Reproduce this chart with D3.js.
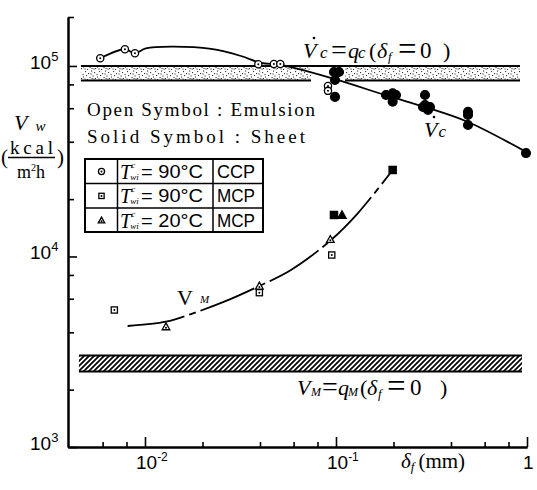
<!DOCTYPE html>
<html><head><meta charset="utf-8">
<script src="https://cdn.jsdelivr.net/npm/d3@7"></script>
<style>body{margin:0;background:#fff}svg{display:block}</style>
</head><body><svg id="c" width="537" height="490"></svg>
<script>
// ---------- data ----------
const xMajorTicks = [0.01, 0.1, 1];
const xMajorBase = ["10", "10", "1"];
const xMajorExp = ["-2", "-1", ""];
const xMinorTicks = [0.006, 0.008, 0.02, 0.04, 0.06, 0.08, 0.2, 0.4, 0.6, 0.8];
const yMajorTicks = [1e3, 1e4, 1e5];
const yMajorBase = ["10", "10", "10"];
const yMajorExp = ["3", "4", "5"];
const yMinorTicks = [2e3, 4e3, 6e3, 8e3, 2e4, 4e4, 6e4, 8e4];

// CCP, Tc_wi = 90°C : open = emulsion, solid = sheet
const ccpEmulsionX = [0.00583, 0.00785, 0.00886, 0.0392, 0.0473, 0.0511, 0.0908, 0.0908];
const ccpEmulsionY = [109700, 122400, 116600, 102100, 102400, 102400, 78500, 74000];
const ccpSheetX = [0.0976, 0.1037, 0.0988, 0.0988, 0.1827, 0.198, 0.2061, 0.198, 0.2924, 0.2924, 0.2854, 0.3106, 0.3032, 0.491, 0.491, 0.491, 0.988];
const ccpSheetY = [93000, 93000, 84400, 68800, 70400, 71900, 70400, 65000, 70400, 62400, 60900, 60900, 58800, 57400, 55300, 49000, 34900];
// MCP, Tc_wi = 90°C
const mcp90EmulsionX = [0.00691, 0.0397, 0.0950];
const mcp90EmulsionY = [5237, 6457, 10180];
const mcp90SheetX = [0.0976, 0.198];
const mcp90SheetY = [16510, 28450];
// MCP, Tc_wi = 20°C
const mcp20EmulsionX = [0.01288, 0.0397, 0.0934];
const mcp20EmulsionY = [4280, 7000, 12310];
const mcp20SheetX = [0.1075];
const mcp20SheetY = [16510];

// fitted curves
const vcCurveX = [0.00583, 0.00785, 0.00886, 0.0101, 0.0137, 0.0222, 0.0318, 0.0405, 0.0515, 0.0976, 0.187, 0.303, 0.491, 0.988];
const vcCurveY = [109700, 122400, 116600, 123600, 126300, 122800, 112800, 103700, 101200, 85500, 69600, 60200, 50800, 35400];
const vmCurveX = [0.00811, 0.01288, 0.01741, 0.0260, 0.0397, 0.0581, 0.0942, 0.130, 0.198];
const vmCurveY = [4317, 4548, 4987, 5789, 7000, 8490, 12200, 16850, 28450];

// bands  (delta_f = 0 levels)
const qcBandY = [84000, 100000];
const qcBandXLeft = [0.00462, 0.0740];
const qcBandXRight = [0.1115, 0.919];
const qmBandY = [2490, 3020];
const qmBandX = [0.00451, 0.9415];

// legend
const legendSymbols = ["circle", "square", "triangle"];
const legendTemps = ["= 90°C", "= 90°C", "= 20°C"];
const legendTypes = ["CCP", "MCP", "MCP"];

// ---------- drawing ----------
const svg = d3.select("#c");
const x = d3.scaleLog().domain([0.003953, 1]).range([68, 527]);
const y = d3.scaleLog().domain([1000, 180700]).range([447, 17]);
const SERIF = "'Liberation Serif','Times New Roman',serif";
const SANS = "'Liberation Sans',Arial,sans-serif";

const defs = svg.append("defs");
const st = defs.append("pattern").attr("id", "stip").attr("patternUnits", "userSpaceOnUse")
  .attr("width", 14).attr("height", 10);
const stipDots = [[1,1],[4,3],[7,0.5],[10,2],[12.5,4],[2,5],[5.5,7],[8.5,5.5],[11,8],[0.5,8.5],[3,9],[6.5,3.5],[9.5,8.5],[13,6.5],[7.5,8]];
st.selectAll("rect").data(stipDots).join("rect")
  .attr("x", d => d[0]).attr("y", d => d[1]).attr("width", 1.1).attr("height", 1.1).attr("fill", "#333");
const ht = defs.append("pattern").attr("id", "hatch").attr("patternUnits", "userSpaceOnUse")
  .attr("width", 5).attr("height", 5);
ht.append("path").attr("d", "M-1,1 l2,-2 M0,5 l5,-5 M4,6 l2,-2")
  .attr("stroke", "#000").attr("stroke-width", 1.7);

function band(x0, x1, yv, fill, top, bottom) {
  svg.append("rect").attr("x", x(x0)).attr("width", x(x1) - x(x0))
    .attr("y", y(yv[1])).attr("height", y(yv[0]) - y(yv[1])).attr("fill", fill);
  if (bottom) svg.append("line").attr("x1", x(x0)).attr("x2", x(x1)).attr("y1", y(yv[0])).attr("y2", y(yv[0]))
    .attr("stroke", "#000").attr("stroke-width", 2);
  if (top) svg.append("line").attr("x1", x(x0)).attr("x2", x(x1)).attr("y1", y(yv[1])).attr("y2", y(yv[1]))
    .attr("stroke", "#000").attr("stroke-width", 2);
}
band(qcBandXLeft[0], qcBandXLeft[1], qcBandY, "url(#stip)", true, true);
band(qcBandXRight[0], qcBandXRight[1], qcBandY, "url(#stip)", false, true);
svg.append("line").attr("x1", x(qcBandXLeft[1]) - 1).attr("x2", x(qcBandXRight[1]))
  .attr("y1", y(qcBandY[1])).attr("y2", y(qcBandY[1])).attr("stroke", "#000").attr("stroke-width", 2);
band(qmBandX[0], qmBandX[1], qmBandY, "url(#hatch)", true, true);

// axes
const gx = svg.append("g").attr("transform", "translate(0,447)");
gx.call(d3.axisBottom(x).tickValues(xMinorTicks).tickSize(-5).tickSizeOuter(0).tickFormat(""));
const gx2 = svg.append("g").attr("transform", "translate(0,447)");
gx2.call(d3.axisBottom(x).tickValues(xMajorTicks).tickSize(-10).tickSizeOuter(0).tickFormat(""));
const gy = svg.append("g").attr("transform", "translate(68,0)");
gy.call(d3.axisLeft(y).tickValues(yMinorTicks.concat([y.domain()[1]])).tickSize(-6).tickSizeOuter(0).tickFormat(""));
const gy2 = svg.append("g").attr("transform", "translate(68,0)");
gy2.call(d3.axisLeft(y).tickValues(yMajorTicks).tickSize(-9).tickSizeOuter(0).tickFormat(""));
svg.selectAll(".domain").attr("stroke", "#000").attr("stroke-width", 2);
svg.selectAll(".tick line").attr("stroke", "#000").attr("stroke-width", 1.6);

xMajorTicks.forEach((v, i) => {
  const t = svg.append("text").attr("font-family", SANS).attr("font-size", 19)
    .attr("x", xMajorExp[i] ? x(v) - 9 : x(v) - 4).attr("y", 469);
  t.append("tspan").text(xMajorBase[i]);
  if (xMajorExp[i]) t.append("tspan").attr("dy", -8).attr("font-size", 12).text(xMajorExp[i]);
});
yMajorTicks.forEach((v, i) => {
  const t = svg.append("text").attr("font-family", SANS).attr("font-size", 19)
    .attr("x", 30).attr("y", y(v) + 3);
  t.append("tspan").text(yMajorBase[i]);
  t.append("tspan").attr("dy", -8).attr("font-size", 13).text(yMajorExp[i]);
});

// curves
const vcPts = vcCurveX.map((d, i) => [d, vcCurveY[i]]);
svg.append("path").attr("d", d3.line().x(d => x(d[0])).y(d => y(d[1])).curve(d3.curveCatmullRom.alpha(0.5))(vcPts))
  .attr("fill", "none").attr("stroke", "#000").attr("stroke-width", 1.8);
const vmPts = vmCurveX.map((d, i) => [d, vmCurveY[i]]);
svg.append("path").attr("d", d3.line().x(d => x(d[0])).y(d => y(d[1])).curve(d3.curveCatmullRom.alpha(0.5))(vmPts))
  .attr("fill", "none").attr("stroke", "#000").attr("stroke-width", 1.8).attr("stroke-dasharray", "58,5,7,5");

// markers
function marker(g, kind, cx, cy, solid, s) {
  s = s || 1;
  if (kind === "circle") {
    g.append("circle").attr("cx", cx).attr("cy", cy).attr("r", solid ? 4.4 : 3.6 * s)
      .attr("fill", solid ? "#000" : "#fff").attr("stroke", "#000").attr("stroke-width", 1.3);
  } else if (kind === "square") {
    const h = solid ? 3.6 : 3.1 * s;
    g.append("rect").attr("x", cx - h).attr("y", cy - h).attr("width", 2 * h).attr("height", 2 * h)
      .attr("fill", solid ? "#000" : "#fff").attr("stroke", "#000").attr("stroke-width", 1.3);
  } else {
    const h = solid ? 4.2 : 3.8 * s;
    g.append("path").attr("d", `M${cx},${cy - h}L${cx + h},${cy + h * 0.8}L${cx - h},${cy + h * 0.8}Z`)
      .attr("fill", solid ? "#000" : "#fff").attr("stroke", "#000").attr("stroke-width", 1.3);
  }
  if (!solid) g.append("circle").attr("cx", cx).attr("cy", kind === "triangle" ? cy + 1 : cy).attr("r", 1).attr("fill", "#000");
}
const gm = svg.append("g");
ccpEmulsionX.forEach((v, i) => marker(gm, "circle", x(v), y(ccpEmulsionY[i]), false));
ccpSheetX.forEach((v, i) => marker(gm, "circle", x(v), y(ccpSheetY[i]), true));
mcp90EmulsionX.forEach((v, i) => marker(gm, "square", x(v), y(mcp90EmulsionY[i]), false));
mcp90SheetX.forEach((v, i) => marker(gm, "square", x(v), y(mcp90SheetY[i]), true));
mcp20EmulsionX.forEach((v, i) => marker(gm, "triangle", x(v), y(mcp20EmulsionY[i]), false));
mcp20SheetX.forEach((v, i) => marker(gm, "triangle", x(v), y(mcp20SheetY[i]), true));

// legend table
const lg = svg.append("g");
lg.append("rect").attr("x", 85).attr("y", 159).attr("width", 178).attr("height", 73)
  .attr("fill", "#fff").attr("stroke", "#000").attr("stroke-width", 2);
[183.5, 208].forEach(yy => lg.append("line").attr("x1", 85).attr("x2", 263).attr("y1", yy).attr("y2", yy).attr("stroke", "#000").attr("stroke-width", 1.5));
[117.5, 213].forEach(xx => lg.append("line").attr("x1", xx).attr("x2", xx).attr("y1", 159).attr("y2", 232).attr("stroke", "#000").attr("stroke-width", 1.5));
legendSymbols.forEach((s, i) => {
  const top = 159 + i * 24.4;
  marker(lg, s, 101.5, top + 12.5, false, 0.85);
  const b = top + 20;
  const tt = lg.append("text").attr("x", 120).attr("y", b).attr("font-family", SERIF).attr("font-style", "italic").attr("font-size", 20);
  tt.append("tspan").text("T");
  tt.append("tspan").attr("font-size", 9).attr("dy", -11).text("c");
  tt.append("tspan").attr("font-size", 9).attr("dx", -5).attr("dy", 12).text("wi");
  lg.append("text").attr("x", 141).attr("y", b - 1).attr("font-family", SANS).attr("font-size", 18)
    .attr("textLength", 62).attr("lengthAdjust", "spacingAndGlyphs").text(legendTemps[i]);
  lg.append("text").attr("x", 217).attr("y", b - 1).attr("font-family", SANS).attr("font-size", 18)
    .attr("textLength", 38).attr("lengthAdjust", "spacingAndGlyphs").text(legendTypes[i]);
});

// notes
svg.append("text").attr("x", 87).attr("y", 116).attr("font-family", SERIF).attr("font-size", 19)
  .attr("textLength", 228).attr("lengthAdjust", "spacing").text("Open Symbol : Emulsion");
svg.append("text").attr("x", 87).attr("y", 143).attr("font-family", SERIF).attr("font-size", 19)
  .attr("textLength", 218).attr("lengthAdjust", "spacing").text("Solid Symbol : Sheet");

// y-axis title
const yt = svg.append("text").attr("x", 14).attr("y", 130).attr("font-family", SERIF).attr("font-style", "italic").attr("font-size", 22);
yt.append("tspan").text("V");
yt.append("tspan").attr("font-size", 15).attr("dx", 8).attr("dy", 1).text("w");
svg.append("text").attr("x", 1).attr("y", 164).attr("font-family", SERIF).attr("font-size", 21).text("(");
svg.append("text").attr("x", 57).attr("y", 164).attr("font-family", SERIF).attr("font-size", 21).text(")");
svg.append("text").attr("x", 10).attr("y", 154).attr("font-family", SERIF).attr("font-size", 19)
  .attr("textLength", 43).attr("lengthAdjust", "spacing").text("kcal");
svg.append("line").attr("x1", 8).attr("x2", 55).attr("y1", 157.5).attr("y2", 157.5).attr("stroke", "#000").attr("stroke-width", 1.3);
const mh = svg.append("text").attr("x", 17).attr("y", 178).attr("font-family", SERIF).attr("font-size", 18);
mh.append("tspan").text("m");
mh.append("tspan").attr("dy", -7).attr("font-size", 10).text("2");
mh.append("tspan").attr("dy", 7).text("h");

// x-axis title
const xt = svg.append("text").attr("x", 401).attr("y", 468).attr("font-family", SERIF).attr("font-size", 21);
xt.append("tspan").attr("font-style", "italic").text("δ");
xt.append("tspan").attr("font-style", "italic").attr("font-size", 13).attr("dy", 3).text("f");
xt.append("tspan").attr("dy", -3).attr("dx", 4).text("(mm)");

// band labels: glyph pieces placed along the baseline
function eqLabel(yy, sub, xs, dot) {
  const big = sub === "c";
  const parts = [
    ["V", true, 22, 0], [sub, true, big ? 17 : 12, big ? 0 : 1], ["=", false, 28, 1], ["q", true, 22, 0],
    [sub, true, big ? 17 : 12, big ? 0 : 1], ["(", false, 22, 0], ["δ", true, 22, 0], ["f", true, 13, 3],
    ["=", false, 33, 2], ["0", false, 23, 0], [")", false, 22, 0]];
  const t = svg.append("text").attr("y", yy).attr("font-family", SERIF);
  parts.forEach((p, i) => {
    t.append("tspan").attr("x", xs[i]).attr("y", yy + p[3]).attr("font-size", p[2])
      .attr("font-style", p[1] ? "italic" : "normal").text(p[0]);
  });
  if (dot) svg.append("circle").attr("cx", xs[0] + 11).attr("cy", yy - 20).attr("r", 1.3).attr("fill", "#000");
}
eqLabel(58, "c", [303, 320, 331, 348, 358, 369, 377, 388, 398, 420, 443], true);
eqLabel(395, "M", [297, 311, 322, 338, 348, 360, 367, 378, 387, 410, 440], false);

// curve labels
const vcl = svg.append("text").attr("x", 424).attr("y", 137).attr("font-family", SERIF).attr("font-style", "italic").attr("font-size", 22);
vcl.append("tspan").text("V");
vcl.append("tspan").attr("font-size", 17).attr("dx", 1).text("c");
svg.append("circle").attr("cx", 434).attr("cy", 117).attr("r", 1.3).attr("fill", "#000");
const vml = svg.append("text").attr("x", 177).attr("y", 305).attr("font-family", SERIF).attr("font-size", 22);
vml.append("tspan").text("V");
vml.append("tspan").attr("font-style", "italic").attr("font-size", 11).attr("dx", 7).attr("dy", -2).text("M");
</script></body></html>
